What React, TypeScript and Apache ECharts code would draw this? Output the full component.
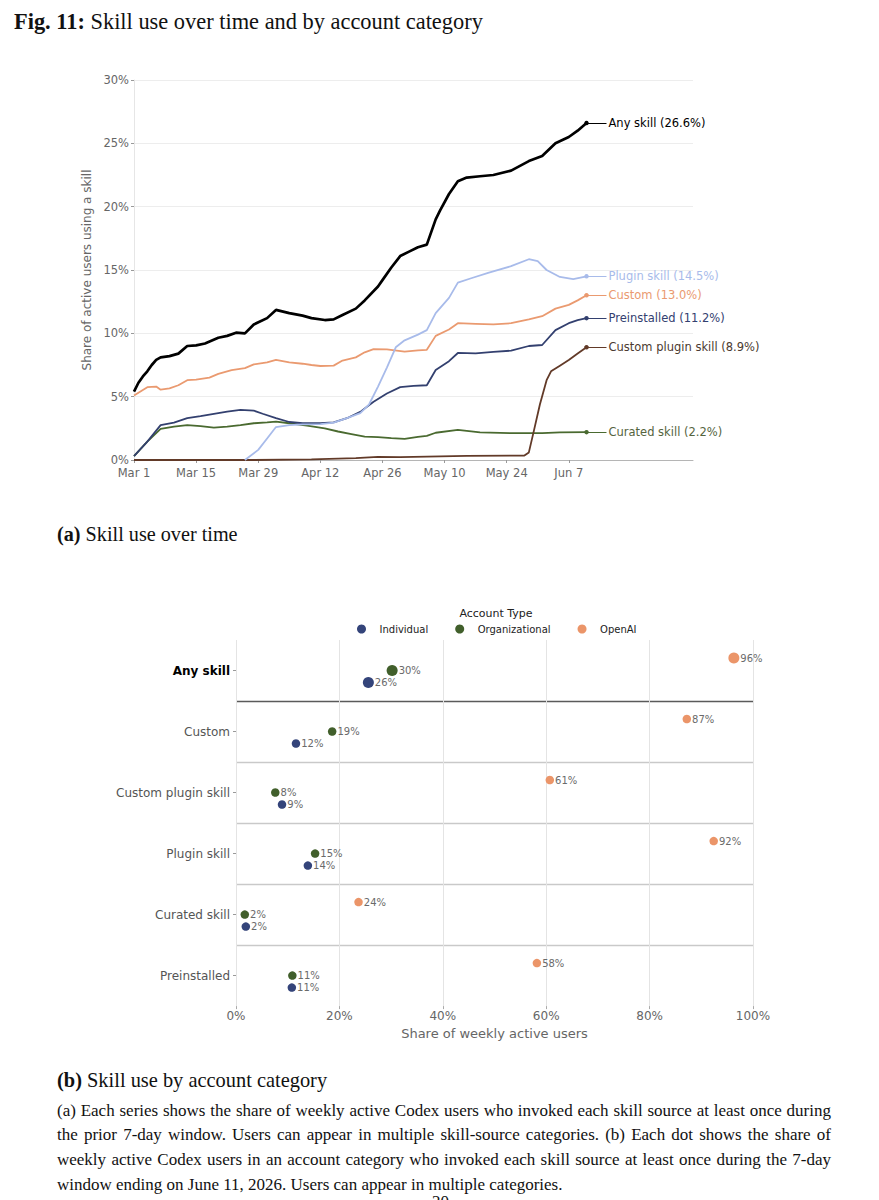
import { useEffect, useRef } from 'react';
import * as echarts from 'echarts';

// panel (a): day index counted from Mar 1, 2026, value = share of active users (%)
const anyDays = [0, 1, 2, 3, 4, 5, 6, 8, 10, 12, 14, 16, 19, 21, 23, 25, 27, 30, 32, 35, 38, 40, 43, 45, 47, 50, 52, 55, 56, 58, 60, 62, 64, 66, 68, 69, 71, 73, 75, 78, 81, 85, 89, 92, 95, 98, 100, 102];
const anyVals = [5.4, 6.1, 6.6, 7.0, 7.5, 7.9, 8.1, 8.2, 8.4, 9.0, 9.05, 9.2, 9.65, 9.8, 10.05, 10.0, 10.7, 11.2, 11.85, 11.6, 11.4, 11.2, 11.05, 11.1, 11.45, 11.95, 12.6, 13.7, 14.2, 15.2, 16.1, 16.45, 16.8, 17.0, 19.0, 19.7, 21.0, 22.0, 22.3, 22.4, 22.5, 22.85, 23.6, 24.0, 25.0, 25.5, 26.0, 26.6];

const pluginDays = [25, 28, 30, 32, 35, 38, 42, 45, 48, 51, 53, 55, 57, 59, 61, 64, 66, 68, 71, 73, 76, 80, 85, 89, 91, 93, 96, 99, 102];
const pluginVals = [0, 0.8, 1.7, 2.6, 2.76, 2.82, 2.84, 2.95, 3.3, 3.7, 4.4, 5.8, 7.3, 8.9, 9.45, 9.9, 10.25, 11.6, 12.8, 14.0, 14.35, 14.8, 15.3, 15.85, 15.7, 15.0, 14.45, 14.28, 14.5];

const customDays = [0, 3, 5, 6, 8, 10, 12, 14, 17, 19, 22, 25, 27, 30, 32, 35, 38, 40, 42, 45, 47, 50, 52, 54, 57, 61, 64, 66, 68, 71, 73, 77, 81, 85, 89, 92, 95, 98, 100, 102];
const customVals = [5.1, 5.75, 5.8, 5.55, 5.65, 5.9, 6.3, 6.35, 6.5, 6.8, 7.1, 7.25, 7.55, 7.7, 7.9, 7.7, 7.6, 7.5, 7.42, 7.45, 7.85, 8.1, 8.5, 8.75, 8.73, 8.55, 8.65, 8.7, 9.8, 10.3, 10.8, 10.75, 10.7, 10.8, 11.1, 11.35, 11.95, 12.25, 12.6, 13.0];

const preinstalledDays = [0, 3, 6, 9, 12, 15, 18, 21, 24, 27, 29, 32, 35, 38, 42, 45, 48, 51, 54, 57, 60, 63, 66, 68, 71, 73, 77, 81, 85, 89, 92, 95, 98, 100, 102];
const preinstalledVals = [0.3, 1.45, 2.75, 2.95, 3.3, 3.47, 3.65, 3.82, 3.95, 3.9, 3.65, 3.3, 3.0, 2.9, 2.9, 2.97, 3.3, 3.8, 4.6, 5.25, 5.75, 5.85, 5.9, 7.1, 7.8, 8.45, 8.42, 8.53, 8.63, 9.0, 9.08, 10.25, 10.8, 11.05, 11.2];

const customPluginDays = [0, 27, 40, 50, 55, 60, 75, 88, 89, 90, 91.5, 93, 94, 96, 98, 100, 102];
const customPluginVals = [0, 0, 0.05, 0.15, 0.25, 0.22, 0.32, 0.35, 0.6, 2.1, 4.4, 6.3, 7.0, 7.45, 7.9, 8.4, 8.9];

const curatedDays = [0, 3, 6, 9, 12, 15, 18, 21, 24, 27, 30, 32, 35, 39, 43, 46, 49, 52, 55, 58, 61, 64, 66, 68, 73, 78, 85, 92, 96, 102];
const curatedVals = [0.3, 1.45, 2.45, 2.63, 2.76, 2.68, 2.55, 2.63, 2.76, 2.9, 2.97, 3.03, 2.9, 2.72, 2.5, 2.25, 2.05, 1.85, 1.8, 1.72, 1.66, 1.82, 1.9, 2.15, 2.37, 2.18, 2.12, 2.12, 2.18, 2.2];

const dateTicks = [0, 14, 28, 42, 56, 70, 84, 98];
const monthNames = ['Jan', 'Feb', 'Mar', 'Apr', 'May', 'Jun', 'Jul', 'Aug', 'Sep', 'Oct', 'Nov', 'Dec'];

// panel (b): share of weekly active users (%) by account type
const skillSources = ['Any skill', 'Custom', 'Custom plugin skill', 'Plugin skill', 'Curated skill', 'Preinstalled'];
const individualShare = [25.6, 11.6, 8.9, 13.9, 1.9, 10.8];
const organizationalShare = [30.2, 18.6, 7.6, 15.3, 1.7, 10.9];
const openaiShare = [96.3, 87.2, 60.7, 92.4, 23.7, 58.2];

const FONT = '"DejaVu Sans", sans-serif';

const fmtDay = (d: number) => {
  const dt = new Date(Date.UTC(2026, 2, 1) + d * 86400000);
  return `${monthNames[dt.getUTCMonth()]} ${dt.getUTCDate()}`;
};

const lineDefs = [
  { name: 'Curated skill', days: curatedDays, vals: curatedVals, color: '#4a6a30', text: '#55643e', width: 1.8 },
  { name: 'Custom plugin skill', days: customPluginDays, vals: customPluginVals, color: '#623a28', text: '#4b3a30', width: 1.8 },
  { name: 'Preinstalled', days: preinstalledDays, vals: preinstalledVals, color: '#33406f', text: '#33406f', width: 1.8 },
  { name: 'Custom', days: customDays, vals: customVals, color: '#ea9a70', text: '#ea9a70', width: 1.8 },
  { name: 'Plugin skill', days: pluginDays, vals: pluginVals, color: '#a8bbea', text: '#a8bbea', width: 1.8 },
  { name: 'Any skill', days: anyDays, vals: anyVals, color: '#000000', text: '#000000', width: 2.7 },
];

function SkillTimeChart() {
  const chartRef = useRef<HTMLDivElement>(null);

  useEffect(() => {
    if (!chartRef.current) return;
    const chart = echarts.init(chartRef.current, null, { renderer: 'svg' });

    const option: any = {
      animation: false,
      textStyle: { fontFamily: FONT },
      grid: { left: 134, right: 186, top: 20, bottom: 30 },
      xAxis: {
        type: 'value',
        min: 0,
        max: 126,
        interval: 14,
        axisLine: { lineStyle: { color: '#b5b5b5', width: 1 } },
        axisTick: { show: true, length: 3, customValues: dateTicks, lineStyle: { color: '#999' } },
        axisLabel: {
          customValues: dateTicks,
          formatter: (v: number) => fmtDay(v),
          color: '#666',
          fontSize: 11.5,
          margin: 7,
        },
        splitLine: { show: false },
      },
      yAxis: {
        type: 'value',
        min: 0,
        max: 30,
        interval: 5,
        name: 'Share of active users using a skill',
        nameLocation: 'middle',
        nameGap: 33,
        nameTextStyle: { color: '#666', fontSize: 12 },
        axisLine: { show: true, lineStyle: { color: '#e6e6e6' } },
        axisTick: { show: true, length: 3, lineStyle: { color: '#999' } },
        axisLabel: { formatter: '{value}%', color: '#666', fontSize: 11.5, margin: 5 },
        splitLine: { lineStyle: { color: '#ededed', width: 1 } },
      },
      series: lineDefs.map((s) => {
        const lastDay = s.days[s.days.length - 1];
        const lastVal = s.vals[s.vals.length - 1];
        return {
          name: s.name,
          type: 'line',
          data: s.days.map((d, i) => [d, s.vals[i]]),
          showSymbol: false,
          lineStyle: { color: s.color, width: s.width },
          itemStyle: { color: s.color },
          emphasis: { disabled: true },
          markLine: {
            silent: true,
            symbol: ['circle', 'none'],
            symbolSize: 4.5,
            lineStyle: { color: s.color, width: 1, type: 'solid' },
            emphasis: { disabled: true },
            label: {
              show: true,
              position: 'end',
              distance: 2,
              formatter: `${s.name} (${lastVal.toFixed(1)}%)`,
              color: s.text,
              fontSize: 11.5,
              fontFamily: FONT,
            },
            data: [[{ coord: [lastDay, lastVal] }, { coord: [106.5, lastVal] }]],
          },
        };
      }),
    };

    chart.setOption(option);
    return () => chart.dispose();
  }, []);

  return <div ref={chartRef} style={{ position: 'absolute', left: 0, top: 60, width: 879, height: 430 }} />;
}

function AccountDotChart() {
  const chartRef = useRef<HTMLDivElement>(null);

  useEffect(() => {
    if (!chartRef.current) return;
    const chart = echarts.init(chartRef.current, null, { renderer: 'svg' });

    const dotLabel = {
      show: true,
      position: 'right',
      distance: 1,
      formatter: (p: any) => `${Math.round(p.value[0])}%`,
      color: '#6a6a6a',
      fontSize: 10,
    };
    const dotSize = (_v: any, p: any) => (p.dataIndex === 0 ? 11 : 8.5);

    const option: any = {
      animation: false,
      textStyle: { fontFamily: FONT },
      title: {
        text: 'Account Type',
        left: 491,
        top: 8,
        textAlign: 'center',
        textStyle: { fontSize: 11, fontWeight: 'normal', color: '#222', fontFamily: FONT },
      },
      legend: {
        left: 352,
        top: 24,
        icon: 'circle',
        itemWidth: 26,
        itemHeight: 9,
        itemGap: 27,
        textStyle: { fontSize: 10, color: '#222' },
        data: ['Individual', 'Organizational', 'OpenAI'],
      },
      grid: { left: 236, right: 126, top: 45, bottom: 38 },
      xAxis: {
        type: 'value',
        min: 0,
        max: 100,
        interval: 20,
        name: 'Share of weekly active users',
        nameLocation: 'middle',
        nameGap: 18,
        nameTextStyle: { color: '#666', fontSize: 13 },
        axisLine: { show: false },
        axisTick: { show: true, length: 3, lineStyle: { color: '#aaa' } },
        axisLabel: { formatter: '{value}%', color: '#666', fontSize: 12, margin: 4 },
        splitLine: { lineStyle: { color: '#e4e4e4' } },
      },
      yAxis: {
        type: 'category',
        data: skillSources,
        inverse: true,
        axisLine: { show: false },
        axisTick: { show: true, alignWithLabel: true, length: 3, lineStyle: { color: '#999' } },
        axisLabel: {
          margin: 6,
          fontSize: 12,
          color: '#555',
          formatter: (v: string) => (v === 'Any skill' ? `{b|${v}}` : v),
          rich: { b: { fontWeight: 'bold', color: '#000', fontSize: 12, fontFamily: FONT } },
        },
        splitLine: {
          show: true,
          lineStyle: {
            color: ['rgba(0,0,0,0)', '#5a5a5a', '#c9c9c9', '#c9c9c9', '#c9c9c9', '#c9c9c9', 'rgba(0,0,0,0)'],
            width: 1.3,
          },
        },
      },
      series: [
        {
          name: 'Individual',
          type: 'scatter',
          data: individualShare.map((v, i) => [v, skillSources[i]]),
          symbolOffset: [0, 12],
          symbolSize: dotSize,
          itemStyle: { color: '#34447a', opacity: 1 },
          label: dotLabel,
          emphasis: { disabled: true },
        },
        {
          name: 'Organizational',
          type: 'scatter',
          data: organizationalShare.map((v, i) => [v, skillSources[i]]),
          symbolOffset: [0, 0],
          symbolSize: dotSize,
          itemStyle: { color: '#415f2b', opacity: 1 },
          label: dotLabel,
          emphasis: { disabled: true },
        },
        {
          name: 'OpenAI',
          type: 'scatter',
          data: openaiShare.map((v, i) => [v, skillSources[i]]),
          symbolOffset: [0, -12.5],
          symbolSize: dotSize,
          itemStyle: { color: '#eb9569', opacity: 1 },
          label: dotLabel,
          emphasis: { disabled: true },
        },
      ],
    };

    chart.setOption(option);
    return () => chart.dispose();
  }, []);

  return <div ref={chartRef} style={{ position: 'absolute', left: 0, top: 595, width: 879, height: 450 }} />;
}

const captionLines = [
  '(a) Each series shows the share of weekly active Codex users who invoked each skill source at least once during',
  'the prior 7-day window. Users can appear in multiple skill-source categories. (b) Each dot shows the share of',
  'weekly active Codex users in an account category who invoked each skill source at least once during the 7-day',
  'window ending on June 11, 2026. Users can appear in multiple categories.',
];

export default function App() {
  const serif = '"Liberation Serif", "DejaVu Serif", serif';
  return (
    <div
      style={{
        position: 'absolute',
        left: 0,
        top: 0,
        width: 879,
        height: 1200,
        overflow: 'hidden',
        background: '#fff',
        fontFamily: serif,
        color: '#111',
      }}
    >
      <div style={{ position: 'absolute', left: 14, top: 7, fontSize: 22.4, lineHeight: '30px', whiteSpace: 'nowrap' }}>
        <b>Fig. 11:</b> Skill use over time and by account category
      </div>

      <SkillTimeChart />

      <div style={{ position: 'absolute', left: 57, top: 521, fontSize: 20.2, lineHeight: '26px', whiteSpace: 'nowrap' }}>
        <b>(a)</b> Skill use over time
      </div>

      <AccountDotChart />

      <div style={{ position: 'absolute', left: 57, top: 1067, fontSize: 20.4, lineHeight: '26px', whiteSpace: 'nowrap' }}>
        <b>(b)</b> Skill use by account category
      </div>

      <div style={{ position: 'absolute', left: 57, top: 1098.6, width: 774, fontSize: 17, lineHeight: '24.7px' }}>
        {captionLines.map((line, i) => (
          <div
            key={i}
            style={{
              whiteSpace: 'nowrap',
              textAlign: 'justify',
              textAlignLast: i < captionLines.length - 1 ? 'justify' : 'left',
            }}
          >
            {line}
          </div>
        ))}
      </div>

      <div style={{ position: 'absolute', left: 432, top: 1191, fontSize: 17, lineHeight: '22px' }}>20</div>
    </div>
  );
}
